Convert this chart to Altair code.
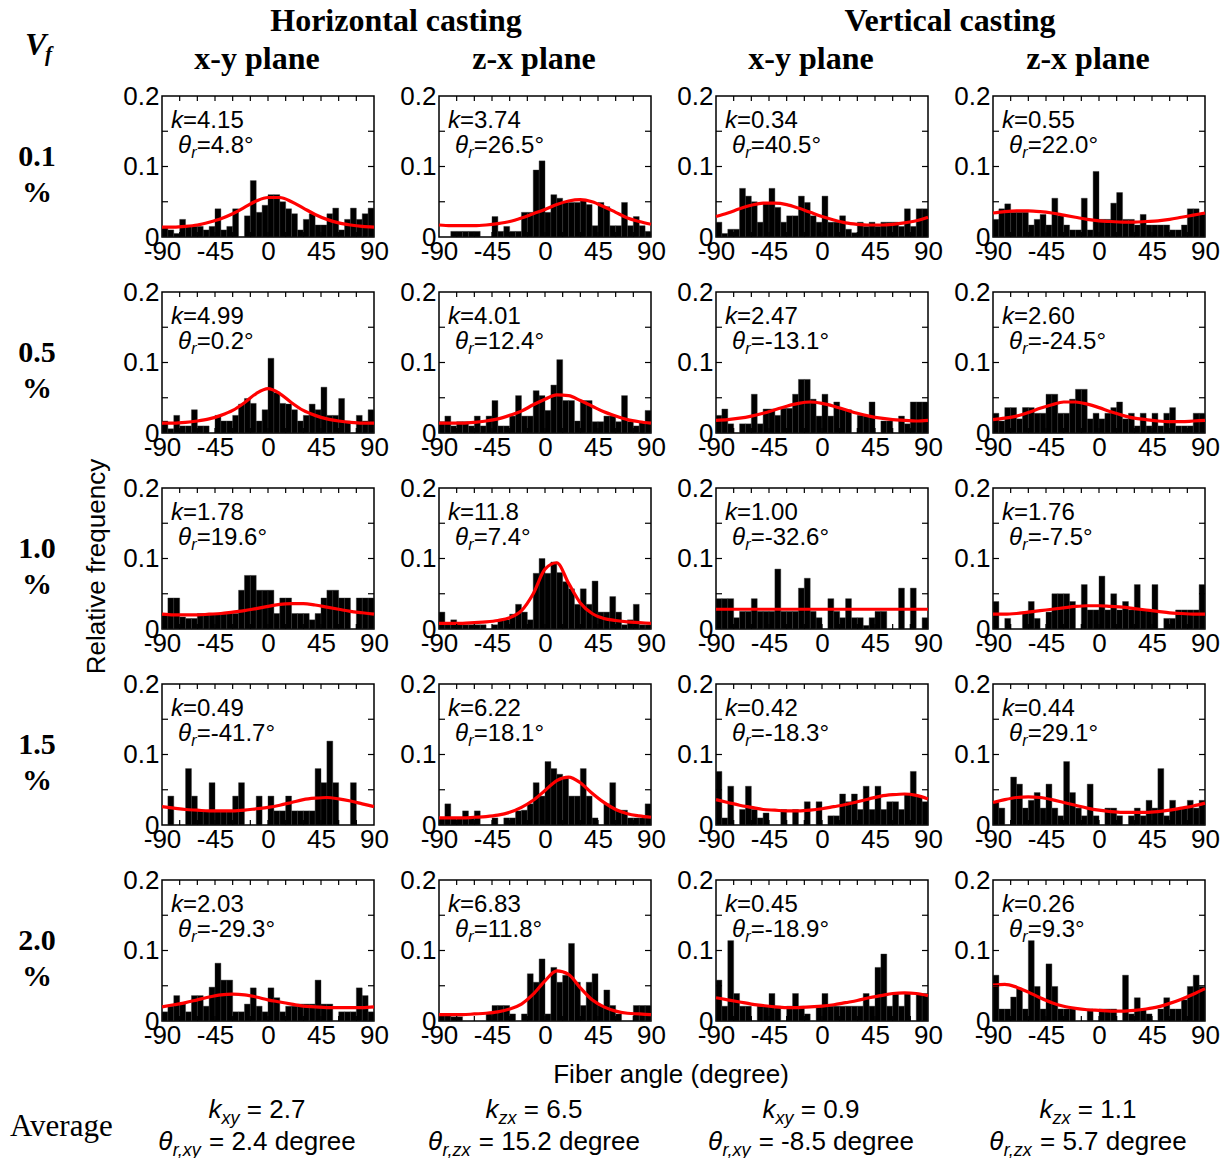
import altair as alt
import pandas as pd

SANS = "Liberation Sans"
SERIF = "Liberation Serif"

# ---------------- data ----------------
BIN_LEFT = [-90, -85, -80, -75, -70, -65, -60, -55, -50, -45, -40, -35,
            -30, -25, -20, -15, -10, -5, 0, 5, 10, 15, 20, 25,
            30, 35, 40, 45, 50, 55, 60, 65, 70, 75, 80, 85]
BIN_WIDTH = 5
CURVE_X = [-90, -80, -70, -60, -50, -40, -30, -20, -10, 0, 10, 20, 30, 40, 50, 60, 70, 80, 90]
X_TICKS = [-90, -45, 0, 45, 90]
X_MINOR = [-75, -60, -45, -30, -15, 0, 15, 30, 45, 60, 75]
Y_TICKS = [0, 0.1, 0.2]
Y_MINOR = [0.05, 0.1, 0.15]

VF_LABELS = ["0.1", "0.5", "1.0", "1.5", "2.0"]
PLANES = ["x-y plane", "z-x plane", "x-y plane", "z-x plane"]
CASTINGS = ["Horizontal casting", "Vertical casting"]

K_LABELS = [["4.15", "3.74", "0.34", "0.55"],
            ["4.99", "4.01", "2.47", "2.60"],
            ["1.78", "11.8", "1.00", "1.76"],
            ["0.49", "6.22", "0.42", "0.44"],
            ["2.03", "6.83", "0.45", "0.26"]]
THETA_LABELS = [["4.8", "26.5", "40.5", "22.0"],
                ["0.2", "12.4", "-13.1", "-24.5"],
                ["19.6", "7.4", "-32.6", "-7.5"],
                ["-41.7", "18.1", "-18.3", "29.1"],
                ["-29.3", "11.8", "-18.9", "9.3"]]

AVG_SUB = ["xy", "zx", "xy", "zx"]
AVG_K = ["2.7", "6.5", "0.9", "1.1"]
AVG_THETA = ["2.4", "15.2", "-8.5", "5.7"]

# bar heights (relative frequency per 5-degree bin)
HXY_01 = [.015, .010, .005, .025, .015, .015, .015, .010, .015, .040, .010, .015, .040, 0, .030, .080, .035, .045,
          .060, .060, .050, .040, .033, .010, .025, .033, .017, .017, .033, .041, .010, .025, .041, .025, .033, .041]
HZX_01 = [0, 0, .008, .008, .008, .008, .008, 0, 0, .029, .008, .015, .008, .008, .035, .035, .095, .108,
          .035, .060, .055, .049, .049, .049, .053, .046, .016, .049, .043, .016, .016, .049, .016, .029, .016, .008]
VXY_01 = [.021, .005, .011, .011, .069, .058, .050, .021, .048, .069, .042, .021, .030, .030, .058, .049, .030, .021,
          .058, .021, .021, .030, .011, .006, .021, .015, .021, .015, .021, .021, .021, .015, .040, .015, .040, .040]
VZX_01 = [.025, .040, .047, .035, .035, .035, .017, .025, .032, .017, .055, .030, .017, .010, .010, .055, .010, .093,
          .025, .025, .048, .063, .025, .025, .017, .032, .017, .017, .017, .017, .010, .010, .017, .040, .040, .032]

HXY_05 = [.017, .006, .025, .010, .010, .033, .010, .010, 0, .025, .017, .017, .025, .041, .049, .042, .017, .033,
          .106, .057, .042, .041, .033, .017, .025, .041, .033, .065, .025, .025, .049, .017, 0, .025, .017, .033]
HZX_05 = [.016, .024, .010, .016, .016, .010, .024, .010, .024, .046, .010, .010, .024, .053, .024, .024, .060, .053,
          .032, .068, .104, .046, .046, .017, .046, .046, .016, .016, .024, .024, .016, .053, .016, .010, .016, .032]
VXY_05 = [.025, .034, .013, 0, .013, .013, .055, .013, .034, .034, .025, .035, .035, .055, .076, .076, .048, .024,
          .055, .024, .044, .034, .033, 0, .025, .024, .044, 0, .017, .017, 0, .024, .013, .044, .044, .044]
VZX_05 = [.028, .017, .036, .036, .020, .036, .036, .028, .028, .055, .055, .028, .028, .048, .062, .062, .020, .028,
          .020, .028, .036, .044, .020, .028, .010, .028, .010, .028, .010, .028, .036, .010, .010, .010, .028, .028]

HXY_10 = [.022, .044, .044, .017, .015, .015, .022, .022, .022, .022, .022, .022, .022, .055, .076, .076, .055, .055,
          .055, .022, .044, .044, .022, .022, .022, .013, .022, .044, .055, .055, .044, .044, 0, .044, .044, .044]
HZX_10 = [.024, .006, .013, .006, .006, .006, .006, .006, 0, .006, .013, .013, .021, .035, .024, .013, .079, .100,
          .079, .095, .080, .067, .057, .035, .057, .035, .068, .024, .024, .046, .024, .006, .013, .035, .006, .006]
VXY_10 = [.043, .043, .043, .016, .025, .025, .043, .025, .025, .025, .085, .025, .025, .025, .058, .072, .025, .016,
          0, .043, .025, .016, .043, .016, .016, .005, .016, .025, .025, 0, 0, .058, 0, .058, 0, .016]
VZX_10 = [.039, 0, .015, 0, 0, .024, .039, .015, 0, .024, .050, .050, .050, .039, 0, .063, .027, .027,
          .075, .027, .050, .027, .039, .027, .063, .027, .027, .063, 0, .015, .015, .027, .027, .027, .027, .063]

HXY_15 = [0, .041, 0, 0, .080, .041, .020, .020, .060, .020, .020, .020, .041, .060, 0, 0, .041, 0,
          .041, .020, .020, .041, .020, .020, .020, .020, .080, .060, .119, .060, 0, 0, .060, 0, 0, 0]
HZX_15 = [.010, .030, .010, .010, .020, .010, .020, 0, 0, .010, 0, .010, .010, .020, .021, .030, .060, .041,
          .090, .080, .072, .068, .041, .041, .080, .041, .010, 0, .030, .060, .021, .021, .010, .010, .010, .030]
VXY_15 = [.076, .010, .055, 0, .022, .055, .022, .010, .017, 0, 0, .022, 0, .022, 0, .033, 0, .033,
          0, .013, .013, .044, .033, .044, .022, .055, .022, .055, .022, .033, .033, .022, .044, .076, .040, .033]
VZX_15 = [.032, .024, 0, .068, .058, .024, .035, .046, .024, .058, .024, .013, .090, .046, .024, .013, .058, .013,
          0, .024, .024, .013, 0, .013, .024, .013, .035, .024, .080, .013, .035, .024, .024, .035, .024, .035]

HXY_20 = [.013, .021, .036, .024, .013, .036, .036, .021, .048, .082, .058, .058, .013, .013, .024, .047, .021, .013,
          .047, .033, .013, .021, .021, .024, .024, .024, .058, .024, .024, 0, .013, .013, .013, .047, .036, .013]
HZX_20 = [.010, .010, .006, .006, 0, 0, 0, 0, .010, .022, .022, .022, .010, 0, .010, .067, .055, .088,
          .010, .076, .055, .065, .110, .055, .022, .055, .067, .022, .044, .022, .010, 0, 0, .022, .022, .022]
VXY_20 = [.058, .021, .114, .039, .021, .021, 0, .021, .021, .039, .021, 0, .021, .039, .021, .010, 0, .021,
          .039, .021, .021, .021, .021, .021, .021, .039, .021, .076, .095, .021, .039, .021, .039, 0, .039, .039]
VZX_20 = [.065, .017, .017, .034, .046, .017, .114, .049, .017, .081, .049, .017, .017, .017, 0, 0, .017, 0,
          .017, .017, .017, 0, .065, .010, .033, .017, .010, 0, .017, .033, .017, .017, .030, .049, .065, .049]

# fitted curves at CURVE_X
C_HXY_01 = [.014, .014, .015, .017, .021, .026, .033, .042, .051, .056, .056, .050, .041, .032, .025, .020, .017, .015, .014]
C_HZX_01 = [.017, .016, .016, .016, .017, .019, .022, .027, .033, .039, .046, .051, .053, .050, .043, .035, .027, .022, .018]
C_VXY_01 = [.029, .034, .040, .045, .048, .048, .046, .041, .035, .029, .024, .020, .018, .017, .017, .018, .020, .023, .028]
C_VZX_01 = [.034, .036, .037, .037, .036, .034, .031, .028, .025, .023, .022, .021, .021, .022, .023, .025, .028, .031, .034]
C_HXY_05 = [.014, .014, .015, .017, .020, .025, .032, .043, .056, .063, .056, .043, .032, .025, .020, .017, .015, .014, .014]
C_HZX_05 = [.014, .014, .014, .015, .017, .020, .025, .031, .040, .048, .054, .053, .046, .038, .030, .024, .019, .016, .014]
C_VXY_05 = [.018, .019, .021, .024, .028, .033, .038, .042, .044, .042, .038, .033, .028, .024, .021, .019, .018, .017, .018]
C_VZX_05 = [.019, .021, .024, .029, .035, .040, .044, .044, .041, .036, .030, .025, .021, .019, .017, .016, .016, .017, .018]
C_HXY_10 = [.021, .020, .020, .020, .021, .022, .024, .026, .029, .032, .035, .036, .036, .034, .031, .028, .025, .023, .021]
C_HZX_10 = [.008, .008, .008, .009, .010, .012, .016, .026, .050, .085, .094, .065, .037, .022, .015, .012, .010, .009, .008]
C_VXY_10 = [.028, .028, .028, .028, .028, .028, .028, .028, .028, .028, .028, .028, .028, .028, .028, .028, .028, .028, .028]
C_VZX_10 = [.021, .021, .022, .024, .026, .028, .030, .032, .033, .033, .032, .031, .029, .027, .025, .023, .022, .021, .021]
C_HXY_15 = [.026, .024, .022, .021, .020, .020, .020, .021, .023, .025, .028, .032, .036, .038, .039, .037, .034, .030, .026]
C_HZX_15 = [.010, .010, .010, .011, .012, .014, .018, .025, .035, .049, .063, .068, .060, .045, .032, .022, .016, .013, .011]
C_VXY_15 = [.036, .032, .028, .025, .022, .021, .020, .020, .021, .023, .026, .029, .033, .037, .041, .043, .044, .042, .037]
C_VZX_15 = [.032, .036, .039, .040, .039, .036, .032, .028, .024, .021, .019, .018, .018, .018, .019, .021, .024, .027, .031]
C_HXY_20 = [.020, .023, .026, .030, .034, .037, .038, .037, .034, .030, .027, .024, .021, .020, .019, .019, .019, .019, .020]
C_HZX_20 = [.009, .009, .009, .010, .011, .013, .017, .024, .038, .057, .071, .066, .047, .030, .020, .014, .011, .010, .009]
C_VXY_20 = [.033, .030, .027, .024, .022, .020, .019, .019, .020, .021, .023, .026, .029, .033, .036, .039, .040, .039, .036]
C_VZX_20 = [.051, .052, .048, .041, .033, .026, .021, .018, .016, .015, .014, .014, .015, .017, .020, .025, .031, .038, .046]

BARS = [[HXY_01, HZX_01, VXY_01, VZX_01],
        [HXY_05, HZX_05, VXY_05, VZX_05],
        [HXY_10, HZX_10, VXY_10, VZX_10],
        [HXY_15, HZX_15, VXY_15, VZX_15],
        [HXY_20, HZX_20, VXY_20, VZX_20]]
CURVES = [[C_HXY_01, C_HZX_01, C_VXY_01, C_VZX_01],
          [C_HXY_05, C_HZX_05, C_VXY_05, C_VZX_05],
          [C_HXY_10, C_HZX_10, C_VXY_10, C_VZX_10],
          [C_HXY_15, C_HZX_15, C_VXY_15, C_VZX_15],
          [C_HXY_20, C_HZX_20, C_VXY_20, C_VZX_20]]

# ---------------- layout ----------------
W, H = 212, 141
HSPACE, VSPACE = 65, 55
OX, OY = 160.5, 95          # top-left plot corner of first panel on the page
TXT = 24                    # annotation text size
ANCHOR = pd.DataFrame({"a": [0]})

AW = {' ': 278, '=': 584, '.': 278, '-': 333, '°': 400, 'k': 500, 'x': 500, 'y': 500,
      'z': 500, 'r': 333, ',': 278, 'd': 556, 'e': 556, 'g': 556, 'θ': 556}


def tw(s, size):
    return sum(AW.get(ch, 556) for ch in s) * size / 1000.0


def txt(s, x, y, size=TXT, font=SANS, style="normal", weight="normal",
        align="left", baseline="alphabetic", angle=None):
    kw = dict(align=align, baseline=baseline, font=font, fontSize=size,
              fontStyle=style, fontWeight=weight, color="black")
    if angle is not None:
        kw["angle"] = angle
    return alt.Chart(ANCHOR).mark_text(**kw).encode(
        x=alt.value(x), y=alt.value(y), text=alt.value(s))


def rich(segments, x, y, center=False):
    """segments: (text, size, italic, dy)"""
    total = sum(tw(t, sz) for t, sz, it, dy in segments)
    cx = x - total / 2.0 if center else x
    out = []
    for t, sz, it, dy in segments:
        stripped = t.lstrip(" ")
        cx += tw(t[:len(t) - len(stripped)], sz)
        out.append(txt(stripped, cx, y + dy, size=sz, style="italic" if it else "normal"))
        cx += tw(stripped, sz)
    return out


XSCALE = alt.Scale(domain=[-90, 90], nice=False, zero=False)
YSCALE = alt.Scale(domain=[0, 0.2], nice=False)
XAXIS = alt.Axis(values=X_TICKS, title=None, ticks=False, domain=False, grid=False,
                 labelFont=SANS, labelFontSize=26, labelColor="black", labelPadding=1,
                 labelFlush=False, labelOverlap=False, labelExpr="'' + datum.value")
YAXIS = alt.Axis(values=Y_TICKS, title=None, ticks=False, domain=False, grid=False,
                 labelFont=SANS, labelFontSize=26, labelColor="black", labelPadding=3,
                 labelOverlap=False,
                 labelExpr="datum.value == 0 ? '0' : format(datum.value, '.1f')")


def panel(r, c):
    vals = BARS[r][c]
    bars = pd.DataFrame({"x0": BIN_LEFT, "x1": [b + BIN_WIDTH for b in BIN_LEFT], "v": vals})
    bars = bars[bars["v"] > 0]
    bars["z"] = 0.0
    curve = pd.DataFrame({"cx": CURVE_X, "cy": CURVES[r][c]})
    xt = pd.DataFrame({"t": X_MINOR})
    yt = pd.DataFrame({"t": Y_MINOR})

    layers = [
        alt.Chart(bars).mark_bar(color="black", stroke="#333333", strokeWidth=0.4).encode(
            x=alt.X("x0:Q", scale=XSCALE, axis=XAXIS), x2="x1:Q",
            y=alt.Y("v:Q", scale=YSCALE, axis=YAXIS), y2="z:Q"),
        alt.Chart(curve).mark_line(color="#ff0000", strokeWidth=3.2, interpolate="monotone").encode(
            x=alt.X("cx:Q", scale=XSCALE, axis=XAXIS),
            y=alt.Y("cy:Q", scale=YSCALE, axis=YAXIS)),
        alt.Chart(xt).mark_rule(color="black", strokeWidth=1.2).encode(
            x=alt.X("t:Q", scale=XSCALE, axis=XAXIS), y=alt.value(0), y2=alt.value(5)),
        alt.Chart(xt).mark_rule(color="black", strokeWidth=1.2).encode(
            x=alt.X("t:Q", scale=XSCALE, axis=XAXIS), y=alt.value(H), y2=alt.value(H - 5)),
        alt.Chart(yt).mark_rule(color="black", strokeWidth=1.2).encode(
            y=alt.Y("t:Q", scale=YSCALE, axis=YAXIS), x=alt.value(0), x2=alt.value(6)),
        alt.Chart(yt).mark_rule(color="black", strokeWidth=1.2).encode(
            y=alt.Y("t:Q", scale=YSCALE, axis=YAXIS), x=alt.value(W), x2=alt.value(W - 6)),
    ]
    # k and theta_r annotations
    layers += rich([("k", TXT, True, 0), ("=" + K_LABELS[r][c], TXT, False, 0)], 9, 32)
    layers += rich([("θ", TXT, True, 0), ("r", 16, True, 5),
                    ("=" + THETA_LABELS[r][c] + "°", TXT, False, 0)], 16, 57)

    # row labels
    if c == 0:
        layers.append(txt(VF_LABELS[r], -125, 61, size=30, font=SERIF, weight="bold",
                          align="center", baseline="middle"))
        layers.append(txt("%", -125, 97, size=30, font=SERIF, weight="bold",
                          align="center", baseline="middle"))
    # column headers
    if r == 0:
        layers.append(txt(PLANES[c], 95, -37, size=32, font=SERIF, weight="bold",
                          align="center", baseline="middle"))
        if c in (0, 2):
            layers.append(txt(CASTINGS[c // 2], 234, -75, size=32, font=SERIF, weight="bold",
                              align="center", baseline="middle"))
    if r == 0 and c == 0:
        layers.append(txt("V", -137, -41, size=32, font=SERIF, weight="bold", style="italic"))
        layers.append(txt("f", -117, -35, size=21, font=SERIF, weight="bold", style="italic"))
        # invisible layout anchor at the page's top-left corner
        layers.append(alt.Chart(ANCHOR).mark_rule(opacity=0, strokeWidth=1).encode(
            x=alt.value(-OX), x2=alt.value(-OX + 1), y=alt.value(-OY), y2=alt.value(-OY + 1)))
    if r == 2 and c == 0:
        layers.append(txt("Relative frequency", -65, H / 2 + 8, size=26, angle=270,
                          align="center", baseline="middle"))
    if r == 4:
        layers += rich([("k", 26, True, 0), ("xy" if c % 2 == 0 else "zx", 18, True, 6),
                        (" = " + AVG_K[c], 26, False, 0)], 95, 238, center=True)
        layers += rich([("θ", 26, True, 0), ("r," + AVG_SUB[c], 18, True, 6),
                        (" = " + AVG_THETA[c] + " degree", 26, False, 0)], 95, 270, center=True)
        if c == 0:
            layers.append(txt("Average", -152, 247, size=31, font=SERIF, baseline="middle"))
            layers.append(txt("Fiber angle (degree)", 509, 195, size=26,
                              align="center", baseline="middle"))
    return alt.layer(*layers).properties(width=W, height=H)


panels = [panel(r, c) for r in range(5) for c in range(4)]
chart = alt.concat(*panels, columns=4, spacing={"row": VSPACE, "column": HSPACE},
                   bounds="flush").properties(
    padding={"left": 0, "top": 0, "right": 0, "bottom": 0}
).configure_view(stroke="black", strokeWidth=1.5)

chart.save("out.html", embed_options={"renderer": "svg", "actions": False})
